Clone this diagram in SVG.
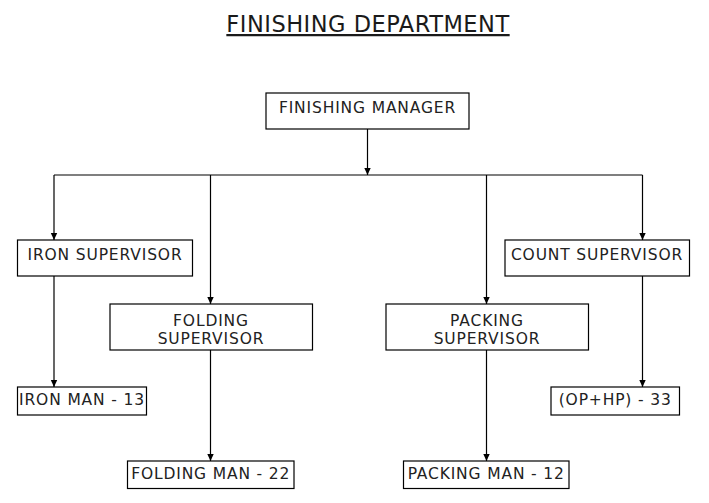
<svg xmlns="http://www.w3.org/2000/svg" width="709" height="503" viewBox="0 0 709 503">
<defs>
<style>
.box{fill:#fff;stroke:#000;stroke-width:1.2}
.t{font-family:"DejaVu Sans","Verdana",sans-serif;font-size:15.5px;letter-spacing:0.85px;fill:#222;text-anchor:middle}
.title{font-family:"DejaVu Sans","Verdana",sans-serif;font-size:22.5px;letter-spacing:0.5px;fill:#1a1a1a;text-anchor:middle;text-decoration:underline}
.c{fill:none;stroke:#000;stroke-width:1.2}
</style>
<marker id="ah" markerWidth="8" markerHeight="8" refX="7" refY="4" orient="auto" markerUnits="userSpaceOnUse">
<path d="M0,0.8 L7,4 L0,7.2 Z" fill="#000"/>
</marker>
</defs>
<rect width="709" height="503" fill="#fff"/>
<text class="title" x="368" y="32">FINISHING DEPARTMENT</text>

<g id="connectors">
<line class="c" x1="367.5" y1="129" x2="367.5" y2="175" marker-end="url(#ah)"/>
<line class="c" x1="54" y1="175" x2="642.5" y2="175"/>
<line class="c" x1="54" y1="175" x2="54" y2="240" marker-end="url(#ah)"/>
<line class="c" x1="210.5" y1="175" x2="210.5" y2="304" marker-end="url(#ah)"/>
<line class="c" x1="486.5" y1="175" x2="486.5" y2="304" marker-end="url(#ah)"/>
<line class="c" x1="642.5" y1="175" x2="642.5" y2="240" marker-end="url(#ah)"/>
<line class="c" x1="54" y1="276" x2="54" y2="387" marker-end="url(#ah)"/>
<line class="c" x1="210.5" y1="350" x2="210.5" y2="461" marker-end="url(#ah)"/>
<line class="c" x1="486.5" y1="350" x2="486.5" y2="461" marker-end="url(#ah)"/>
<line class="c" x1="642.5" y1="276" x2="642.5" y2="387" marker-end="url(#ah)"/>
</g>

<g id="finishing-manager">
<rect class="box" x="266" y="93" width="203" height="36"/>
<text class="t" x="367.5" y="112.5">FINISHING MANAGER</text>
</g>
<g id="iron-supervisor">
<rect class="box" x="17.5" y="240" width="175" height="36"/>
<text class="t" x="105" y="260">IRON SUPERVISOR</text>
</g>
<g id="folding-supervisor">
<rect class="box" x="110" y="304" width="202.5" height="46"/>
<text class="t" x="211" y="325.5">FOLDING</text>
<text class="t" x="211" y="344.3">SUPERVISOR</text>
</g>
<g id="packing-supervisor">
<rect class="box" x="386" y="304" width="202.5" height="46"/>
<text class="t" x="487" y="325.5">PACKING</text>
<text class="t" x="487" y="344.3">SUPERVISOR</text>
</g>
<g id="count-supervisor">
<rect class="box" x="505" y="240" width="184.5" height="36"/>
<text class="t" x="597" y="260">COUNT SUPERVISOR</text>
</g>
<g id="iron-man">
<rect class="box" x="17.5" y="387" width="129" height="28"/>
<text class="t" x="82" y="404.7">IRON MAN - 13</text>
</g>
<g id="folding-man">
<rect class="box" x="127.5" y="461" width="166.5" height="27.5"/>
<text class="t" x="210.7" y="479">FOLDING MAN - 22</text>
</g>
<g id="packing-man">
<rect class="box" x="403.5" y="461" width="165.5" height="27.5"/>
<text class="t" x="486.2" y="479">PACKING MAN - 12</text>
</g>
<g id="op-hp">
<rect class="box" x="551" y="387" width="128.5" height="28"/>
<text class="t" x="615.2" y="404.7">(OP+HP) - 33</text>
</g>
</svg>
